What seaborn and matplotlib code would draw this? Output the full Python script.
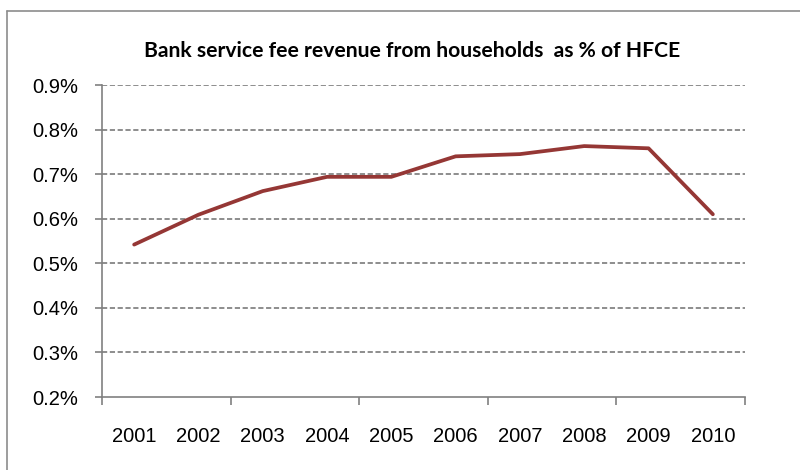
import matplotlib
matplotlib.use("Agg")
import matplotlib.pyplot as plt
from matplotlib.lines import Line2D
from matplotlib.ticker import FixedLocator, FuncFormatter
import seaborn as sns
import pandas as pd

years = ["2001", "2002", "2003", "2004", "2005", "2006", "2007", "2008", "2009", "2010"]
fee_share = [0.542, 0.609, 0.662, 0.694, 0.694, 0.740, 0.745, 0.763, 0.758, 0.610]
y_ticks = [0.2, 0.3, 0.4, 0.5, 0.6, 0.7, 0.8, 0.9]
title = "Bank service fee revenue from households  as % of HFCE"

sns.set_theme(style="white")
plt.rcParams["font.family"] = ["Liberation Sans", "DejaVu Sans"]

df = pd.DataFrame({"year": years, "share": fee_share})

fig = plt.figure(figsize=(8, 4.7), dpi=100)
ax = fig.add_axes([0.1275, 0.1553, 0.80375, 0.6638])

grey = "#808080"
sns.lineplot(data=df, x="year", y="share", ax=ax, color="#953735",
             linewidth=2.7, sort=False)

ax.set_ylim(y_ticks[0], y_ticks[-1])
ax.set_xlim(-0.5, len(years) - 0.5)
ax.yaxis.set_major_locator(FixedLocator(y_ticks))
ax.yaxis.set_major_formatter(FuncFormatter(lambda v, _: f"{v:.1f}%"))

# tick marks every two categories, labels centred on each category
ax.xaxis.set_major_locator(FixedLocator([i - 0.5 for i in range(0, len(years) + 1, 2)]))
ax.xaxis.set_major_formatter(FuncFormatter(lambda v, _: ""))
ax.xaxis.set_minor_locator(FixedLocator(list(range(len(years)))))
ax.set_xticks(range(len(years)), years, minor=True)

ax.tick_params(axis="x", which="major", direction="out", length=6, width=1.2,
               color=grey, bottom=True)
ax.tick_params(axis="x", which="minor", length=0, pad=21.5, labelsize=14.5,
               colors="black", bottom=True)
ax.tick_params(axis="y", which="major", direction="out", length=5, width=1.2,
               color=grey, pad=12, labelsize=14.5, left=True, labelcolor="black")

for g in y_ticks[1:]:
    ax.axhline(g, color=grey, linestyle=(0, (3.0, 1.5)), linewidth=1.25, zorder=0)

for side in ["top", "right"]:
    ax.spines[side].set_visible(False)
for side in ["left", "bottom"]:
    ax.spines[side].set_color(grey)
    ax.spines[side].set_linewidth(1.2)

ax.set_xlabel("")
ax.set_ylabel("")

fig.text(0.515, 1 - 56.7 / 470, title, ha="center", va="baseline", fontsize=15.2,
         fontweight="bold", family=["Lato", "DejaVu Sans"], color="black")

# chart-area frame
fig.add_artist(Line2D([7 / 800, 1.01], [1 - 11 / 470, 1 - 11 / 470],
                      transform=fig.transFigure, color="#8c8c8c", linewidth=1.2))
fig.add_artist(Line2D([7 / 800, 7 / 800], [-0.01, 1 - 11 / 470],
                      transform=fig.transFigure, color="#8c8c8c", linewidth=1.2))

fig.savefig("out.png", dpi=100)
